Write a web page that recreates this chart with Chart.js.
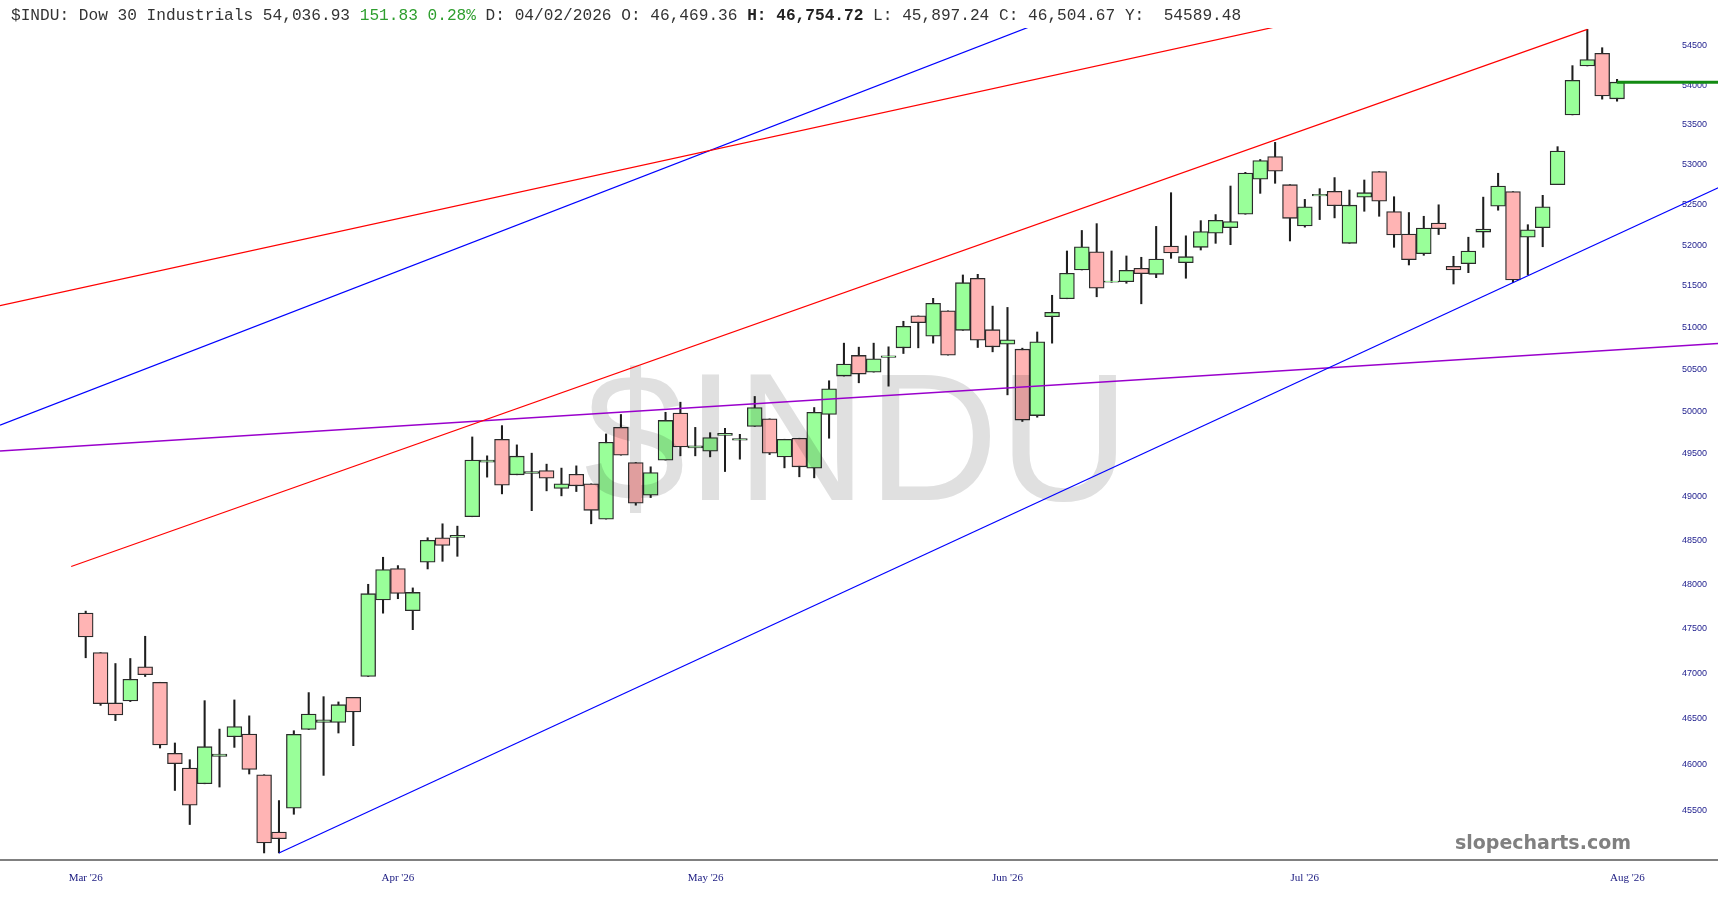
<!DOCTYPE html>
<html>
<head>
<meta charset="utf-8">
<title>$INDU - Dow 30 Industrials</title>
<script src="https://cdn.jsdelivr.net/npm/chart.js@4.4.1/dist/chart.umd.min.js"></script>
<style>
  html, body { margin: 0; padding: 0; background: #fff; overflow: hidden; }
  #wrap { position: relative; width: 1718px; height: 900px; }
  #hdr {
    position: absolute; left: 11px; top: 8px;
    font: 16.15px "Liberation Mono", "DejaVu Sans Mono", monospace;
    line-height: 16px; color: #333; white-space: pre;
  }
  #hdr .g { color: #2e9e2e; }
  #hdr b { color: #222; }
</style>
</head>
<body>
<div id="wrap">
  <canvas id="chart" width="1718" height="900"></canvas>
  <div id="hdr"><span>$INDU: Dow 30 Industrials 54,036.93 </span><span class="g">151.83 0.28%</span><span> D: 04/02/2026 O: 46,469.36 </span><b>H: 46,754.72</b><span> L: 45,897.24 C: 46,504.67 Y:  54589.48</span></div>
</div>
<script>
// daily candles, Mar 2 '26 -> end of Jul '26
const opens = [
  47675, 47233, 46675, 46697, 47074, 46903, 46123, 45964, 45793, 46090,
  46304, 46334, 45891, 45274, 45530, 46383, 46460, 46460, 46737, 46967,
  47822, 48178, 47703, 48250, 48530, 48535, 48771, 49403, 49671, 49256,
  49271, 49306, 49097, 49263, 49151, 48744, 49810, 49399, 49020, 49427,
  49980, 49570, 49531, 49717, 49659, 49822, 49910, 49465, 49683, 49334,
  49962, 50417, 50663, 50464, 50640, 50754, 51138, 50893, 51199, 50964,
  51594, 50972, 50798, 50738, 49949, 51127, 51345, 51695, 51918, 51545,
  51551, 51716, 51642, 51988, 51784, 51972, 52146, 52213, 52379, 52813,
  53096, 52746, 52234, 52606, 52663, 52021, 52591, 52909, 52413, 52134,
  51894, 52271, 51740, 51772, 52159, 52479, 52659, 52096, 52213, 52746,
  53621, 54244, 54406, 53825
];
const highs = [
  47697, 47233, 47111, 47167, 47415, 46903, 46236, 46054, 46700, 46388,
  46708, 46533, 45891, 45612, 46370, 46789, 46744, 46686, 46737, 48000,
  48307, 48212, 47959, 48530, 48690, 48663, 49698, 49477, 49831, 49605,
  49508, 49380, 49334, 49360, 49151, 49733, 49962, 49399, 49349, 49988,
  50107, 49810, 49748, 49799, 49729, 50175, 49910, 49671, 49683, 50044,
  50361, 50810, 50762, 50810, 50766, 51073, 51138, 51350, 51199, 51634,
  51642, 51256, 51240, 50750, 50944, 51387, 51927, 52179, 52263, 51927,
  51866, 51850, 52229, 52646, 52113, 52300, 52375, 52729, 52900, 53060,
  53275, 52746, 52563, 52696, 52834, 52679, 52804, 52909, 52596, 52400,
  52354, 52496, 51862, 52096, 52591, 52888, 52659, 52250, 52613, 53221,
  54248, 54714, 54478, 54073
];
const lows = [
  47175, 46648, 46481, 46690, 46967, 46181, 45721, 45355, 45793, 45758,
  46188, 45899, 45052, 45052, 45465, 46383, 45884, 46345, 46207, 46967,
  47674, 47837, 47489, 48174, 48261, 48318, 48771, 49229, 49035, 49256,
  48841, 49070, 49012, 49062, 48690, 48744, 49485, 48904, 48992, 49427,
  49477, 49477, 49465, 49294, 49438, 49822, 49492, 49337, 49233, 49221,
  49683, 50417, 50337, 50464, 50297, 50686, 50754, 50810, 50667, 50964,
  50758, 50706, 50194, 49880, 49930, 50810, 51345, 51695, 51369, 51545,
  51533, 51284, 51601, 51837, 51594, 51939, 52021, 52004, 52379, 52638,
  52763, 52050, 52220, 52313, 52334, 52021, 52416, 52354, 51972, 51756,
  51874, 52129, 51524, 51662, 51972, 52429, 51540, 51634, 51979, 52746,
  53621, 54244, 53821, 53795
];
const closes = [
  47408, 46667, 46544, 46937, 46986, 46214, 46011, 45562, 46196, 46116,
  46416, 45949, 45158, 45203, 46330, 46552, 46489, 46656, 46575, 47894,
  48167, 47896, 47908, 48500, 48443, 48558, 49427, 49427, 49136, 49473,
  49294, 49217, 49151, 49128, 48845, 49636, 49485, 48927, 49283, 49892,
  49581, 49593, 49690, 49741, 49678, 50044, 49508, 49671, 49349, 49988,
  50266, 50560, 50441, 50622, 50658, 51012, 51057, 51289, 50667, 51540,
  50845, 50766, 50849, 49896, 50826, 51180, 51655, 51979, 51472, 51561,
  51691, 51650, 51829, 51902, 51857, 52166, 52304, 52288, 52891, 53046,
  52913, 52329, 52471, 52625, 52484, 52491, 52646, 52541, 52125, 51820,
  52209, 52200, 51695, 51927, 52196, 52729, 51573, 52188, 52471, 53166,
  54060, 54325, 53862, 54037
];

// month labels sit at the first session of each month
const monthTickPos = [0, 21, 41.7, 62, 82, 103.7];
const monthTickLabels = ["Mar '26", "Apr '26", "May '26", "Jun '26", "Jul '26", "Aug '26"];
const yTickValues = [45500, 46000, 46500, 47000, 47500, 48000, 48500, 49000, 49500,
  50000, 50500, 51000, 51500, 52000, 52500, 53000, 53500, 54000, 54500];

// drawn trend lines, [session index, price]
const redUpperLine = [[-5.764, 51261], [81.68, 54816]];
const blueUpperLine = [[-5.764, 49837], [68.23, 55101]];
const redMidLine = [[-0.975, 48202], [101, 54714]];
const blueLowerLine = [[13, 45052], [110, 52723]];
const purpleLine = [[-5.764, 49533], [109.79, 50806]];
const lastPriceLine = [[103, 54036.93], [110, 54036.93]];

const UP = "#99ff99";
const DOWN = "#ffb4b4";

const idx = opens.map((_, i) => i);
const toXY = pts => pts.map(p => ({ x: p[0], y: p[1] }));

function trend(data, color, width) {
  return {
    type: "line",
    data: toXY(data),
    borderColor: color,
    borderWidth: width,
    pointRadius: 0,
    tension: 0,
    order: 1,
  };
}

// the big grey symbol sits over the candles (multiplied) and under the lines
const decorations = {
  id: "decorations",
  afterDatasetDraw(chart, args) {
    if (args.index !== 1) return;
    const c = chart.ctx;
    c.save();
    c.globalCompositeOperation = "multiply";
    c.fillStyle = "#e0e0e0";
    c.font = '182px "Liberation Sans", Arial, sans-serif';
    c.textAlign = "center";
    c.textBaseline = "alphabetic";
    c.fillText("$INDU", 857, 500);
    c.restore();
  },
  afterDraw(chart) {
    const c = chart.ctx;
    c.save();
    c.fillStyle = "#808080";
    c.font = 'bold 19px "DejaVu Sans", Verdana, sans-serif';
    c.textAlign = "right";
    c.textBaseline = "alphabetic";
    c.fillText("slopecharts.com", 1631, 849);
    c.restore();
  }
};

const ctx = document.getElementById("chart").getContext("2d");

new Chart(ctx, {
  type: "bar",
  data: {
    datasets: [
      {
        label: "wicks",
        data: idx.map(i => ({ x: i, y: [lows[i], highs[i]] })),
        backgroundColor: "#1e1e1e",
        barThickness: 1.4,
        grouped: false,
        order: 3,
      },
      {
        label: "bodies",
        data: idx.map(i => ({ x: i, y: [opens[i], closes[i]] })),
        backgroundColor: c => closes[c.dataIndex] >= opens[c.dataIndex] ? UP : DOWN,
        borderColor: "#2b2b2b",
        borderWidth: 1.3,
        borderSkipped: false,
        barPercentage: 1,
        categoryPercentage: 1,
        grouped: false,
        order: 2,
      },
      trend(redUpperLine, "#ff0000", 1.2),
      trend(blueUpperLine, "#0000ff", 1.2),
      trend(redMidLine, "#ff0000", 1.2),
      trend(blueLowerLine, "#0000ff", 1.2),
      trend(purpleLine, "#9900cc", 1.6),
      trend(lastPriceLine, "#128a12", 3),
    ]
  },
  options: {
    responsive: false,
    animation: false,
    devicePixelRatio: 1,
    layout: { padding: { top: 28, left: 0, right: 0, bottom: 0 } },
    plugins: {
      legend: { display: false },
      tooltip: { enabled: false },
    },
    scales: {
      x: {
        type: "linear",
        min: -5.764,
        max: 109.79,
        offset: false,
        bounds: "data",
        grid: { display: false, drawTicks: false },
        border: { display: true, color: "#808080", width: 2 },
        ticks: {
          autoSkip: false,
          maxRotation: 0,
          padding: 12,
          color: "#1a1a80",
          font: { family: '"Liberation Serif", "Times New Roman", serif', size: 11 },
          callback: (v, i) => monthTickLabels[i],
        },
        afterBuildTicks: s => { s.ticks = monthTickPos.map(v => ({ value: v })); },
        afterFit: s => { s.height = 40; },
      },
      y: {
        type: "logarithmic",
        position: "right",
        min: 44977,
        max: 54732,
        bounds: "data",
        grid: { display: false, drawTicks: false },
        border: { display: false },
        ticks: {
          mirror: true,
          autoSkip: false,
          padding: -11,
          color: "#1c1c8c",
          font: { family: '"Liberation Sans", Arial, sans-serif', size: 9 },
          callback: v => String(v),
        },
        afterBuildTicks: s => { s.ticks = yTickValues.map(v => ({ value: v })); },
        afterFit: s => { s.width = 0; },
      }
    }
  },
  plugins: [decorations]
});
</script>
</body>
</html>
